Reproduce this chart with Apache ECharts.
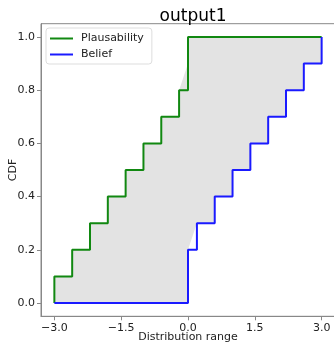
<!DOCTYPE html>
<html><head><meta charset="utf-8">
<script src="https://cdn.jsdelivr.net/npm/echarts@6/dist/echarts.min.js"></script>
<style>html,body{margin:0;padding:0;background:#fff}#c{width:334px;height:343px}</style>
</head><body><div id="c"></div>
<script>
// Cumulative probability levels
const levels = [0.1, 0.2, 0.3, 0.4, 0.5, 0.6, 0.7, 0.8, 0.9, 1.0];
// x where each level is reached
const plausX = [-3.0, -2.6, -2.2, -1.8, -1.4, -1.0, -0.6, -0.2, 0.0, 0.0];
const beliefX = [0.0, 0.0, 0.2, 0.6, 1.0, 1.4, 1.8, 2.2, 2.6, 3.0];
const xStart = -3.0, xEnd = 3.0;
const xTicks = [-3.0, -1.5, 0.0, 1.5, 3.0];
const yTicks = [0.0, 0.2, 0.4, 0.6, 0.8, 1.0];

function lineData(xs) {
  const d = [[xStart, 0]];
  xs.forEach((x, i) => d.push([x, levels[i]]));
  if (xs[xs.length - 1] < xEnd) d.push([xEnd, 1.0]);
  return d;
}
const plausData = lineData(plausX);
const beliefData = lineData(beliefX);

function fillPoly() {
  const left = [[plausX[0], 0]];
  for (let i = 0; i < plausX.length; i++) {
    if (i > 0 && !(plausX[i] === plausX[i - 1]) && !(i + 1 < plausX.length && plausX[i + 1] === plausX[i])) {
      left.push([plausX[i], levels[i - 1]]);
    }
    left.push([plausX[i], levels[i]]);
  }
  left.push([xEnd, 1.0]);
  const right = [];
  for (let i = 0; i < beliefX.length; i++) {
    if (i > 0 && !(beliefX[i] === beliefX[i - 1]) && !(i - 2 >= 0 && beliefX[i - 1] === beliefX[i - 2])) {
      right.push([beliefX[i], levels[i - 1]]);
    }
    right.push([beliefX[i], levels[i]]);
  }
  right.unshift([beliefX[0], 0]);
  right.unshift([xStart, 0]);
  return left.concat(right.reverse());
}
const poly = fillPoly();

const chart = echarts.init(document.getElementById('c'), null, {renderer: 'canvas'});
const fontFam = 'DejaVu Sans';
chart.setOption({
  animation: false,
  title: {text: 'output1', left: 188, top: 3, textAlign: 'center',
    textStyle: {fontFamily: fontFam, fontSize: 17, fontWeight: 'normal', color: '#000'}},
  grid: {left: 41, top: 23.7, width: 294, height: 292.6, containLabel: false, outerBoundsMode: 'none',
    show: true, borderColor: '#888', borderWidth: 1, backgroundColor: 'transparent'},
  legend: {
    orient: 'vertical', left: 46, top: 28, padding: [5, 8, 4, 4], itemGap: 5,
    itemWidth: 23, itemHeight: 2, icon: 'rect',
    backgroundColor: '#fff', borderColor: '#ddd', borderWidth: 1, borderRadius: 3,
    textStyle: {fontFamily: fontFam, fontSize: 11, color: '#222', padding: [0, 0, 0, 3]},
    data: ['Plausability', 'Belief']
  },
  xAxis: {
    type: 'value', min: -3.3, max: 3.3,
    name: 'Distribution range', nameLocation: 'middle', nameGap: 15, nameMoveOverlap: false,
    nameTextStyle: {fontFamily: fontFam, fontSize: 11, color: '#222', verticalAlign: 'top'},
    axisLine: {show: true, onZero: false, lineStyle: {color: '#888'}},
    axisTick: {show: true, length: 4, customValues: xTicks, lineStyle: {color: '#888'}},
    axisLabel: {customValues: xTicks, fontFamily: fontFam, fontSize: 11, color: '#222', margin: 6,
      formatter: v => (v < 0 ? '\u2212' : '') + Math.abs(v).toFixed(1)},
    splitLine: {show: false}
  },
  yAxis: {
    type: 'value', min: -0.05, max: 1.05,
    name: 'CDF', nameLocation: 'middle', nameGap: 22, nameMoveOverlap: false,
    nameTextStyle: {fontFamily: fontFam, fontSize: 11, color: '#222'},
    axisLine: {show: true, onZero: false, lineStyle: {color: '#888'}},
    axisTick: {show: true, length: 4, customValues: yTicks, lineStyle: {color: '#888'}},
    axisLabel: {customValues: yTicks, fontFamily: fontFam, fontSize: 11, color: '#222', margin: 6,
      formatter: v => v.toFixed(1)},
    splitLine: {show: false}
  },
  series: [
    {
      type: 'custom', silent: true, z: 1,
      data: [[0, 0]],
      renderItem: function (params, api) {
        return {type: 'polygon', shape: {points: poly.map(p => api.coord(p))},
          style: {fill: '#e3e3e3', stroke: null}};
      }
    },
    {name: 'Plausability', type: 'line', step: 'end', data: plausData, showSymbol: false, z: 3,
      lineStyle: {color: '#118811', width: 2}, itemStyle: {color: '#118811'}},
    {name: 'Belief', type: 'line', step: 'end', data: beliefData, showSymbol: false, z: 3,
      lineStyle: {color: '#1a1aff', width: 2}, itemStyle: {color: '#1a1aff'}}
  ]
});
</script></body></html>
